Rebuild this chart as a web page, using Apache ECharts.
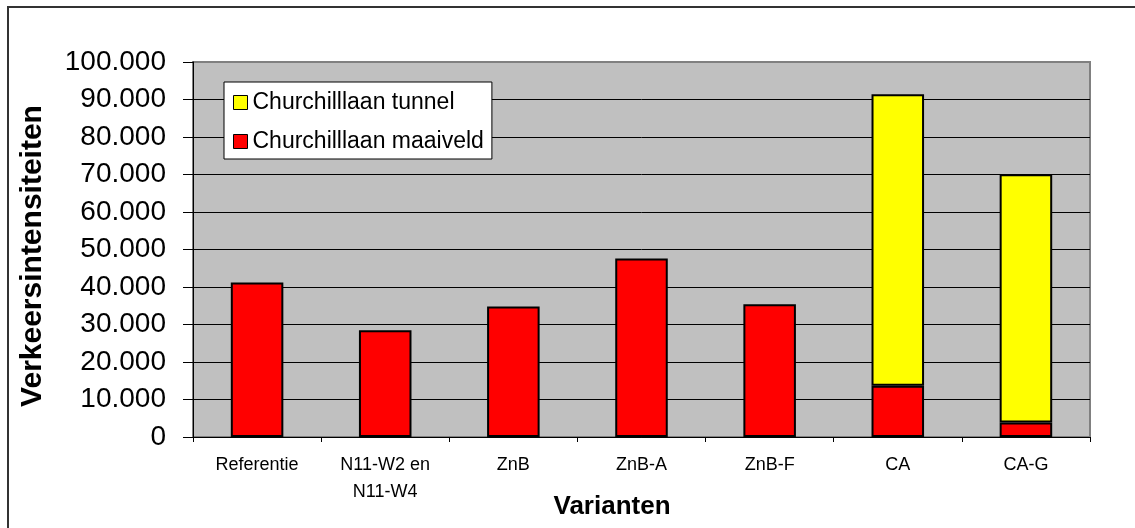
<!DOCTYPE html>
<html>
<head>
<meta charset="utf-8">
<script src="https://cdn.jsdelivr.net/npm/echarts@6/dist/echarts.min.js"></script>
<style>html,body{margin:0;padding:0;background:#fff;}#c{width:1135px;height:528px;}</style>
</head>
<body>
<div id="c"></div>
<script>
var categories = ['Referentie', 'N11-W2 en\nN11-W4', 'ZnB', 'ZnB-A', 'ZnB-F', 'CA', 'CA-G'];
var maaiveld = [41200, 28500, 34800, 47600, 35400, 13700, 3900];
var tunnel = [null, null, null, null, null, 77700, 66200];
var yTicks = { min: 0, max: 100000, interval: 10000 };
var seriesNames = ['Churchilllaan maaiveld', 'Churchilllaan tunnel'];

var font = "'Liberation Sans', Arial, sans-serif";
function fmt(v) {
  return String(v).replace(/\B(?=(\d{3})+(?!\d))/g, '.');
}
var chart = echarts.init(document.getElementById('c'));
chart.setOption({
  animation: false,
  backgroundColor: '#ffffff',
  textStyle: { fontFamily: font },
  grid: {
    left: 193, top: 62, right: 45, bottom: 91,
    show: true, backgroundColor: '#c0c0c0', borderColor: '#808080', borderWidth: 2
  },
  legend: {
    orient: 'vertical',
    left: 224, top: 82,
    data: [seriesNames[1], seriesNames[0]],
    backgroundColor: '#ffffff',
    borderColor: '#000000',
    borderWidth: 1,
    padding: [9, 8, 6, 9],
    itemGap: 16,
    itemWidth: 14, itemHeight: 14,
    icon: 'rect',
    itemStyle: { borderColor: '#000000', borderWidth: 1 },
    textStyle: { fontFamily: font, fontSize: 23, lineHeight: 23, color: '#000' }
  },
  xAxis: {
    type: 'category',
    data: categories,
    axisLine: { lineStyle: { color: '#000', width: 1 } },
    axisTick: { show: true, length: 5, lineStyle: { color: '#000' } },
    axisLabel: { fontFamily: font, fontSize: 18, lineHeight: 27, color: '#000', margin: 15, interval: 0 }
  },
  yAxis: {
    type: 'value',
    min: yTicks.min, max: yTicks.max, interval: yTicks.interval,
    axisLine: { show: true, lineStyle: { color: '#000', width: 1 } },
    axisTick: { show: true, length: 10, lineStyle: { color: '#000' } },
    axisLabel: { fontFamily: font, fontSize: 28, color: '#000', margin: 27, formatter: fmt },
    splitLine: { show: true, showMaxLine: false, lineStyle: { color: '#000', width: 1 } }
  },
  series: [
    {
      name: seriesNames[0], type: 'bar', stack: 'total', data: maaiveld,
      barWidth: '41%',
      itemStyle: { color: '#ff0000', borderColor: '#000', borderWidth: 2 }
    },
    {
      name: seriesNames[1], type: 'bar', stack: 'total', data: tunnel,
      barWidth: '41%',
      itemStyle: { color: '#ffff00', borderColor: '#000', borderWidth: 2 }
    }
  ],
  graphic: [
    {
      type: 'rect', z: 100, silent: true,
      shape: { x: 8, y: 7, width: 1300, height: 700 },
      style: { fill: 'none', stroke: '#333', lineWidth: 2 }
    },
    {
      type: 'text', x: 33, y: 256, rotation: Math.PI / 2,
      style: { text: 'Verkeersintensiteiten', fontFamily: font, fontWeight: 'bold', fontSize: 30,
        fill: '#000', textAlign: 'center', textVerticalAlign: 'middle' }
    },
    {
      type: 'text', x: 612, y: 507,
      style: { text: 'Varianten', fontFamily: font, fontWeight: 'bold', fontSize: 26,
        fill: '#000', textAlign: 'center', textVerticalAlign: 'middle' }
    }
  ]
});
</script>
</body>
</html>
